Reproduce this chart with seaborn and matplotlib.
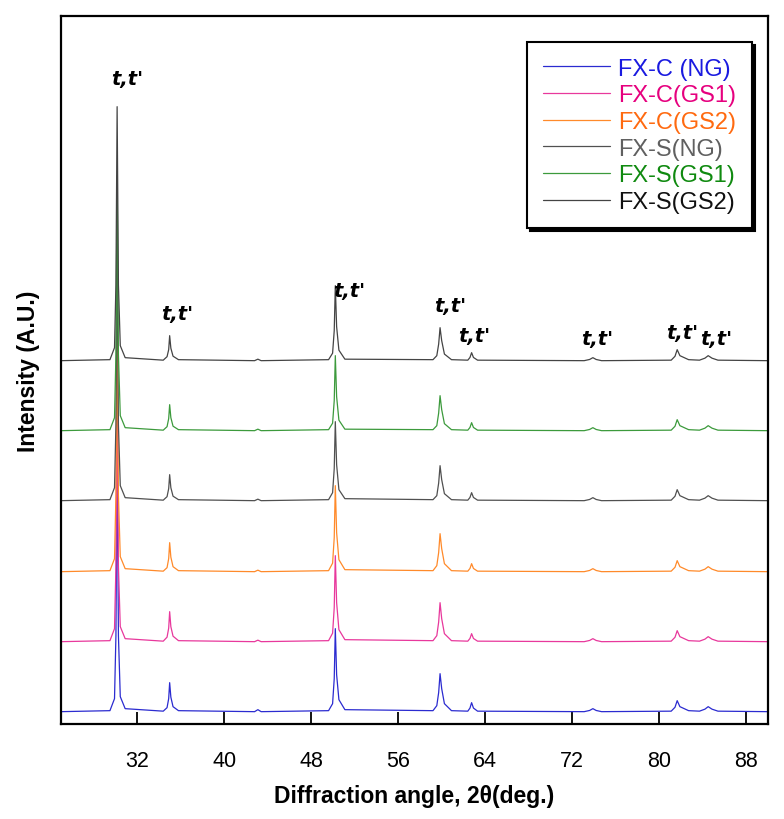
import numpy as np
import seaborn as sns
import matplotlib.pyplot as plt

# 2-theta sample positions (deg.)
two_theta = [25.0,
             29.5, 29.92, 30.05, 30.16, 30.28, 30.45, 30.9,
             34.4, 34.75, 34.9, 34.99, 35.1, 35.3, 35.8,
             42.8, 43.1, 43.4,
             49.6, 49.97, 50.12, 50.22, 50.34, 50.55, 51.1,
             59.2, 59.55, 59.72, 59.85, 60.0, 60.25, 60.9,
             62.4, 62.6, 62.75, 62.92, 63.3,
             73.1, 73.6, 73.9, 74.2, 74.7,
             81.1, 81.45, 81.65, 81.9, 82.7,
             83.7, 84.2, 84.5, 84.85, 85.4,
             90.0]

# intensities above each trace's own baseline (A.U.)
fx_c_ng = [0,
           1, 13, 76, 255, 76, 15, 3,
           0.5, 4, 13, 29, 14.5, 5, 1,
           0, 2, 0,
           1, 8, 33, 83, 37, 12, 2,
           1, 6, 19, 38, 23, 8, 1,
           0.5, 3.6, 9, 3.6, 0.5,
           0, 1.2, 3, 1.2, 0,
           0.5, 4.4, 11, 5, 1,
           0.5, 2.5, 5, 2.5, 0.5,
           0]
fx_c_gs1 = [0,
            1, 13, 75, 252, 75, 15, 3,
            0.5, 4.5, 13.5, 30, 15, 5.5, 1,
            0, 1.5, 0,
            1, 8.5, 34, 86, 39, 12, 2,
            1, 6, 19.5, 39, 23, 8, 1,
            0.5, 3.2, 8, 3.2, 0.5,
            0, 1.2, 3, 1.2, 0,
            0.5, 4.4, 11, 5, 1,
            0.5, 2.5, 5, 2.5, 0.5,
            0]
fx_c_gs2 = [0,
            1, 13, 76, 254, 76, 15, 3,
            0.5, 4, 13, 29, 14.5, 5, 1,
            0, 1.5, 0,
            1, 8.5, 34, 86, 39, 12, 2,
            1, 6, 19, 38, 23, 8, 1,
            0.5, 3.2, 8, 3.2, 0.5,
            0, 1.2, 3, 1.2, 0,
            0.5, 4.4, 11, 5, 1,
            0.5, 2.5, 5, 2.5, 0.5,
            0]
fx_s_ng = [0,
           1, 13, 76, 253, 76, 15, 3,
           0.5, 4, 12, 26, 13, 4.5, 1,
           0, 1.5, 0,
           1, 8, 32, 79, 36, 11, 2,
           1, 5, 17.5, 35, 21, 7, 1,
           0.5, 3.2, 8, 3.2, 0.5,
           0, 1.2, 3, 1.2, 0,
           0.5, 4.4, 11, 5, 1,
           0.5, 2.5, 5, 2.5, 0.5,
           0]
fx_s_gs1 = [0,
            1, 13, 76, 255, 76, 15, 3,
            0.5, 4, 12, 26, 13, 4.5, 1,
            0, 1.5, 0,
            1, 7.5, 30, 75, 34, 10.5, 1.5,
            1, 5, 17.5, 35, 21, 7, 1,
            0.5, 3.2, 8, 3.2, 0.5,
            0, 1.2, 3, 1.2, 0,
            0.5, 4.4, 11, 5, 1,
            0.5, 2.5, 5, 2.5, 0.5,
            0]
fx_s_gs2 = [0,
            1, 13, 76, 254, 76, 15, 3,
            0.5, 4, 11, 25, 12.5, 4.5, 1,
            0, 1.5, 0,
            1, 7.5, 30, 75, 34, 10.5, 1.5,
            1, 5, 16.5, 33, 20, 6.6, 1,
            0.5, 3.2, 8, 3.2, 0.5,
            0, 1.2, 3, 1.2, 0,
            0.5, 4.4, 11, 5, 1,
            0.5, 2.5, 5, 2.5, 0.5,
            0]

names = ['FX-C (NG)', 'FX-C(GS1)', 'FX-C(GS2)', 'FX-S(NG)', 'FX-S(GS1)', 'FX-S(GS2)']
series = [fx_c_ng, fx_c_gs1, fx_c_gs2, fx_s_ng, fx_s_gs1, fx_s_gs2]
offsets = [0, 70, 140, 211, 281, 351]

line_colors = ['#2b2bd0', '#e8389c', '#ff8a2a', '#505050', '#3c9a3c', '#444444']
text_colors = ['#1a1ae0', '#e6007e', '#ff6a10', '#606060', '#108a10', '#111111']

# peak labels (deg., A.U.)
peak_x = [31.05, 35.7, 51.5, 60.8, 63.0, 74.3, 82.1, 85.2]
peak_y = [633, 398, 421, 406, 376, 373, 379, 373]

sns.set_style('white')
plt.rcParams['font.family'] = ['Liberation Sans', 'DejaVu Sans']

fig, ax = plt.subplots(figsize=(7.84, 8.2), dpi=100)
fig.subplots_adjust(left=0.0778, right=0.9796, bottom=0.1159, top=0.9793)

for name, y, off, c in zip(names, series, offsets, line_colors):
    sns.lineplot(x=two_theta, y=np.array(y) + off, color=c, linewidth=0.9,
                 label=name, ax=ax)

for px, py in zip(peak_x, peak_y):
    ax.text(px, py, "t,t'", ha='center', va='center', fontsize=14,
            fontweight='bold', style='italic', family='DejaVu Sans', color='black')

ax.set_xlim(25, 90)
ax.set_ylim(-12.3, 695.7)
ax.set_xticks([32, 40, 48, 56, 64, 72, 80, 88])
ax.set_yticks([])
ax.tick_params(axis='x', direction='in', length=8.5, width=1.3, pad=19,
               labelsize=15.5, labelcolor='black', color='black', bottom=True)
for s in ax.spines.values():
    s.set_linewidth(1.6)
    s.set_color('black')

ax.set_xlabel('Diffraction angle, 2θ(deg.)', fontsize=16.5, fontweight='bold',
              labelpad=9, color='black')
ax.set_ylabel('Intensity (A.U.)', fontsize=16.5, fontweight='bold',
              labelpad=15, color='black')

leg = ax.legend(loc='upper right', bbox_to_anchor=(0.977, 0.963), borderaxespad=0,
                fontsize=17, handlelength=2.85, handletextpad=0.35,
                labelspacing=0.2, borderpad=0.65, fancybox=False,
                edgecolor='black', framealpha=1,
                shadow={'color': 'black', 'alpha': 1})
leg.get_frame().set_linewidth(1.5)
for t, col in zip(leg.get_texts(), text_colors):
    t.set_color(col)

fig.savefig('out.png', dpi=100)
